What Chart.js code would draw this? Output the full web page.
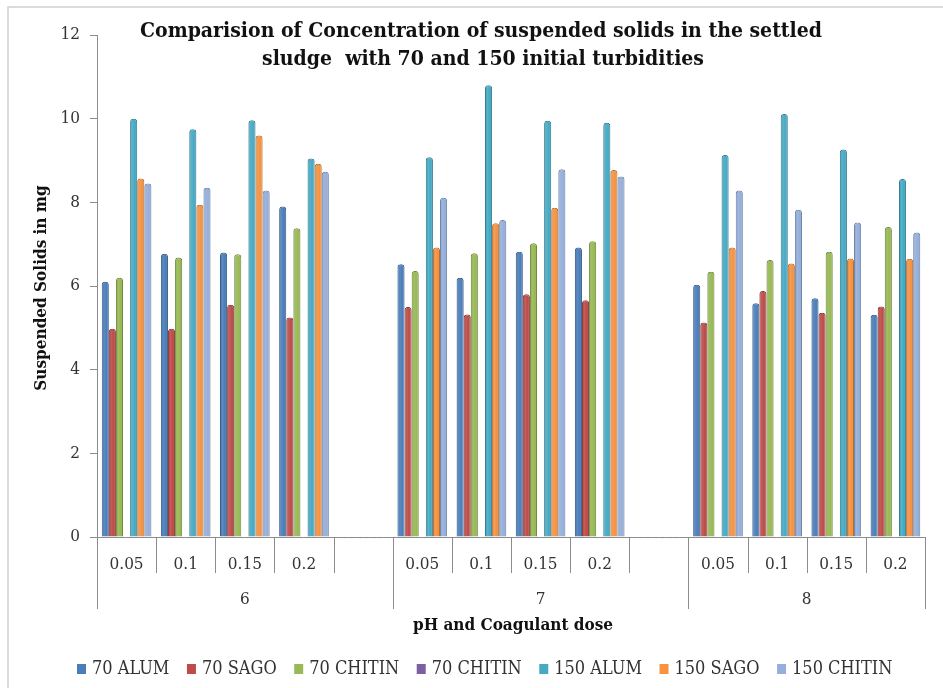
<!DOCTYPE html>
<html>
<head>
<meta charset="utf-8">
<script src="https://cdn.jsdelivr.net/npm/chart.js@4/dist/chart.umd.min.js"></script>
<style>
  html, body { margin: 0; padding: 0; background: #ffffff; }
  #wrap { width: 943px; height: 688px; position: relative; }
</style>
</head>
<body>
<div id="wrap"><canvas id="c" width="943" height="688"></canvas></div>
<script>
// Coagulant dose per slot; '' marks the spacer slot between pH groups
const doseLabels = ['0.05', '0.1', '0.15', '0.2', '', '0.05', '0.1', '0.15', '0.2', '', '0.05', '0.1', '0.15', '0.2'];
const phLabels = ['6', '7', '8'];
const phGroupSizes = [5, 5, 4];

const seriesNames = ['70 ALUM', '70 SAGO', '70 CHITIN', '70 CHITIN', '150 ALUM', '150 SAGO', '150 CHITIN'];

// Suspended solids (mg)
const alum70    = [6.10, 6.77, 6.80, 7.90, null, 6.52, 6.20, 6.82, 6.92, null, 6.03, 5.59, 5.71, 5.31];
const sago70    = [4.98, 4.98, 5.55, 5.25, null, 5.50, 5.32, 5.80, 5.66, null, 5.13, 5.88, 5.36, 5.51];
const chitin70  = [6.20, 6.68, 6.76, 7.38, null, 6.36, 6.78, 7.02, 7.07, null, 6.34, 6.62, 6.82, 7.41];
const chitin70b = [null, null, null, null, null, null, null, null, null, null, null, null, null, null];
const alum150   = [10.00, 9.75, 9.96, 9.05, null, 9.08, 10.80, 9.95, 9.90, null, 9.13, 10.11, 9.26, 8.56];
const sago150   = [8.57, 7.94, 9.60, 8.92, null, 6.92, 7.50, 7.87, 8.77, null, 6.92, 6.54, 6.66, 6.65];
const chitin150 = [8.45, 8.35, 8.28, 8.73, null, 8.11, 7.58, 8.79, 8.62, null, 8.28, 7.82, 7.52, 7.28];

const yTicks = [0, 2, 4, 6, 8, 10, 12];

const seriesData = [alum70, sago70, chitin70, chitin70b, alum150, sago150, chitin150];
const fills   = ['#4A7EBB', '#BE4B48', '#98B954', '#7D60A0', '#46AAC5', '#F69240', '#94AFDB'];
const borders = ['#385D8A', '#8C3836', '#71893F', '#5C4776', '#357D91', '#B66D31', '#6E84A8'];

const SERIF = '"DejaVu Serif Condensed", "DejaVu Serif", "Liberation Serif", serif';
const AXIS_GREY = '#8C8C8C';

// Frame and white page behind the chart
const framePlugin = {
  id: 'frame',
  beforeDraw(chart) {
    const ctx = chart.ctx;
    ctx.save();
    ctx.fillStyle = '#ffffff';
    ctx.fillRect(0, 0, chart.width, chart.height);
    ctx.strokeStyle = '#CFCFCF';
    ctx.lineWidth = 1.5;
    ctx.strokeRect(8, 7, chart.width + 10, chart.height + 10);
    ctx.restore();
  }
};

// Cylinder-like shading over each bar
const shadePlugin = {
  id: 'shade',
  afterDatasetsDraw(chart) {
    const ctx = chart.ctx;
    ctx.save();
    chart.getSortedVisibleDatasetMetas().forEach(meta => {
      meta.data.forEach(bar => {
        if (bar.skip || bar.y == null || isNaN(bar.y)) return;
        const w = bar.width, x0 = bar.x - w / 2;
        const g = ctx.createLinearGradient(x0, 0, x0 + w, 0);
        g.addColorStop(0, 'rgba(0,0,0,0.12)');
        g.addColorStop(0.35, 'rgba(255,255,255,0.10)');
        g.addColorStop(0.65, 'rgba(255,255,255,0.0)');
        g.addColorStop(1, 'rgba(0,0,0,0.18)');
        ctx.fillStyle = g;
        ctx.fillRect(x0 + 1, bar.y + 2, w - 2, bar.base - bar.y - 2);
      });
    });
    ctx.restore();
  }
};

// Grouped category axis: dividers, pH labels, axis titles, chart title and legend
const layoutPlugin = {
  id: 'grouped',
  afterDraw(chart) {
    const ctx = chart.ctx;
    const xs = chart.scales.x;
    const area = chart.chartArea;
    const n = doseLabels.length;
    const edge = i => {
      if (i <= 0) return area.left;
      if (i >= n) return area.right;
      return (xs.getPixelForValue(i - 1) + xs.getPixelForValue(i)) / 2;
    };
    const groupStarts = [];
    let acc = 0;
    phGroupSizes.forEach(s => { groupStarts.push(acc); acc += s; });
    groupStarts.push(n);

    ctx.save();
    ctx.strokeStyle = AXIS_GREY;
    ctx.lineWidth = 1;
    for (let i = 0; i <= n; i++) {
      const x = Math.round(edge(i)) + 0.5;
      const isGroup = groupStarts.includes(i);
      ctx.beginPath();
      ctx.moveTo(x, area.bottom);
      ctx.lineTo(x, area.bottom + (isGroup ? 72 : 36));
      ctx.stroke();
    }

    ctx.fillStyle = '#333333';
    ctx.font = '17px ' + SERIF;
    ctx.textAlign = 'center';
    ctx.textBaseline = 'middle';
    phLabels.forEach((lab, g) => {
      const cx = (edge(groupStarts[g]) + edge(groupStarts[g + 1])) / 2;
      ctx.fillText(lab, cx, area.bottom + 63);
    });

    // axis titles
    ctx.fillStyle = '#111111';
    ctx.font = 'bold 17px ' + SERIF;
    ctx.fillText('pH and Coagulant dose', 513, area.bottom + 89);
    ctx.save();
    ctx.translate(42, 288);
    ctx.rotate(-Math.PI / 2);
    ctx.fillText('Suspended Solids in mg', 0, 0);
    ctx.restore();

    // chart title
    ctx.font = 'bold 21px ' + SERIF;
    ctx.fillText('Comparision of Concentration of suspended solids in the settled', 481, 32);
    ctx.fillText('sludge  with 70 and 150 initial turbidities', 483, 60);

    // legend
    ctx.font = '18px ' + SERIF;
    ctx.textAlign = 'left';
    let lx = 77;
    const ly = 669;
    seriesNames.forEach((name, i) => {
      ctx.fillStyle = fills[i];
      ctx.fillRect(lx, ly - 5, 9, 10);
      ctx.fillStyle = '#333333';
      ctx.fillText(name, lx + 15, ly);
      lx += 15 + ctx.measureText(name).width + 17.5;
    });
    ctx.restore();
  }
};

new Chart(document.getElementById('c'), {
  type: 'bar',
  data: {
    labels: doseLabels,
    datasets: seriesData.map((d, i) => ({
      label: seriesNames[i],
      data: d,
      backgroundColor: fills[i],
      borderColor: borders[i],
      borderWidth: 1,
      borderSkipped: 'bottom',
      borderRadius: { topLeft: 3, topRight: 3, bottomLeft: 0, bottomRight: 0 },
      barPercentage: 1.0,
      categoryPercentage: 0.84
    }))
  },
  options: {
    responsive: false,
    animation: false,
    layout: { padding: { top: 35, right: 18, bottom: 0, left: 0 } },
    plugins: {
      legend: { display: false },
      title: { display: false },
      tooltip: { enabled: false }
    },
    scales: {
      x: {
        grid: { display: false, drawTicks: false },
        border: { display: true, color: AXIS_GREY, width: 1 },
        ticks: {
          color: '#333333',
          font: { family: SERIF, size: 17 },
          padding: 17,
          autoSkip: false,
          maxRotation: 0
        },
        afterFit(scale) { scale.height = 151; }
      },
      y: {
        min: 0,
        max: 12,
        afterBuildTicks(scale) { scale.ticks = yTicks.map(v => ({ value: v })); },
        grid: { drawOnChartArea: false, tickLength: 7, color: AXIS_GREY },
        border: { display: true, color: AXIS_GREY, width: 1 },
        ticks: {
          color: '#333333',
          font: { family: SERIF, size: 17 },
          padding: 10
        },
        afterFit(scale) { scale.width = 97; }
      }
    }
  },
  plugins: [framePlugin, shadePlugin, layoutPlugin]
});
</script>
</body>
</html>
